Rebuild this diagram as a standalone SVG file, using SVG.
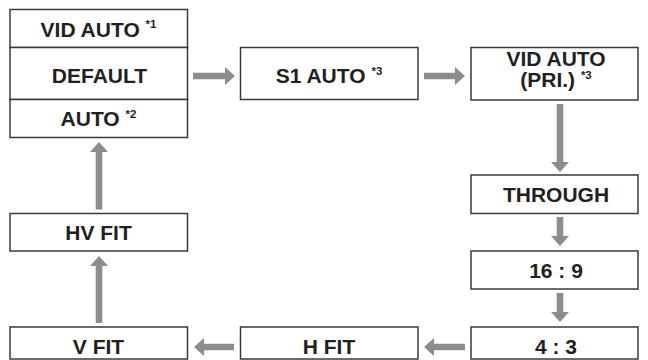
<svg xmlns="http://www.w3.org/2000/svg" width="648" height="360" viewBox="0 0 648 360">
<style>
.box{fill:#fff;stroke:#3a3a3a;stroke-width:1.5}
.t{font-family:"Liberation Sans",Arial,sans-serif;font-weight:bold;font-size:21px;fill:#231f20;text-anchor:middle}
.s{font-size:11.5px}
.arr{fill:#8c8c8c}
</style>
<g id="n-left">
<rect class="box" x="10" y="9.5" width="177.5" height="38"/>
<rect class="box" x="10" y="47.5" width="177.5" height="52"/>
<rect class="box" x="10" y="99.5" width="177.5" height="38"/>
<text class="t" x="98.5" y="36.5">VID AUTO <tspan class="s" dy="-8.5">*1</tspan></text>
<text class="t" x="99.5" y="83">DEFAULT</text>
<text class="t" x="98.5" y="126">AUTO <tspan class="s" dy="-8.5">*2</tspan></text>
</g>
<g id="n-s1">
<rect class="box" x="240.5" y="47.5" width="177.5" height="52"/>
<text class="t" x="329" y="83">S1 AUTO <tspan class="s" dy="-8.5">*3</tspan></text>
</g>
<g id="n-vidpri">
<rect class="box" x="471" y="47.5" width="167" height="52.5"/>
<text class="t" x="556" y="65.5">VID AUTO<tspan x="556" dy="21">(PRI.) </tspan><tspan class="s" dy="-8">*3</tspan></text>
</g>
<g id="n-through">
<rect class="box" x="471" y="175" width="167" height="38.5"/>
<text class="t" x="556" y="201.5">THROUGH</text>
</g>
<g id="n-169">
<rect class="box" x="471" y="251" width="167" height="38"/>
<text class="t" x="556" y="277.5">16 : 9</text>
</g>
<g id="n-43">
<rect class="box" x="471" y="327" width="167" height="32"/>
<text class="t" x="556" y="353.5">4 : 3</text>
</g>
<g id="n-hfit">
<rect class="box" x="240.5" y="327" width="177.5" height="32"/>
<text class="t" x="329" y="353.5">H FIT</text>
</g>
<g id="n-vfit">
<rect class="box" x="10" y="327" width="177.5" height="32"/>
<text class="t" x="98.5" y="353.5">V FIT</text>
</g>
<g id="n-hvfit">
<rect class="box" x="10" y="213.5" width="177.5" height="37.5"/>
<text class="t" x="98.5" y="240">HV FIT</text>
</g>
<g id="connectors">
<polygon class="arr" points="193,72.7 225,72.7 225,67 235,76 225,85 225,79.3 193,79.3"/>
<polygon class="arr" points="424,72.7 455,72.7 455,67 465,76 455,85 455,79.3 424,79.3"/>
<polygon class="arr" points="556.7,104 563.3,104 563.3,162 569,162 560,172 551,162 556.7,162"/>
<polygon class="arr" points="556.7,217 563.3,217 563.3,236 569,236 560,246 551,236 556.7,236"/>
<polygon class="arr" points="556.7,293 563.3,293 563.3,312 569,312 560,322 551,312 556.7,312"/>
<polygon class="arr" points="465,343.7 434,343.7 434,338 424,347 434,356 434,350.3 465,350.3"/>
<polygon class="arr" points="234,343.7 204,343.7 204,338 194,347 204,356 204,350.3 234,350.3"/>
<polygon class="arr" points="95.7,323 102.3,323 102.3,266 108,266 99,256 90,266 95.7,266"/>
<polygon class="arr" points="95.7,209.5 102.3,209.5 102.3,152 108,152 99,142 90,152 95.7,152"/>
</g>
</svg>
